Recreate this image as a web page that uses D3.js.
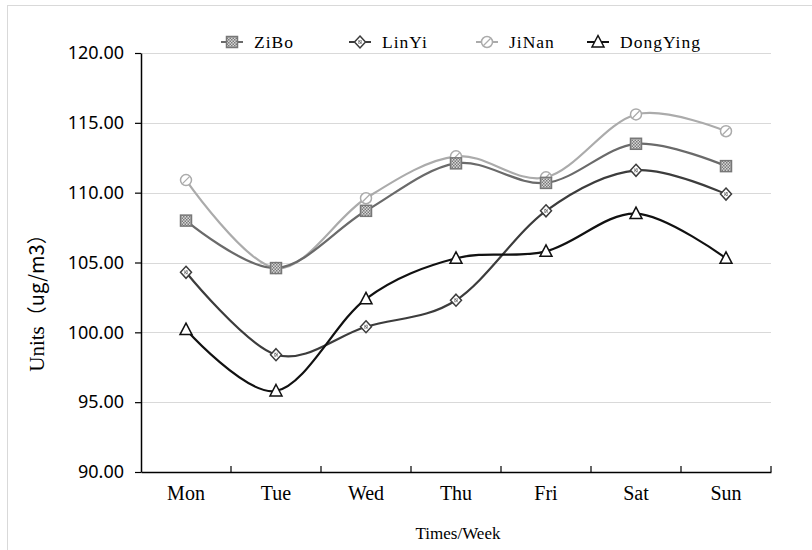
<!DOCTYPE html>
<html><head><meta charset="utf-8">
<script src="https://cdn.jsdelivr.net/npm/d3@7"></script>
<style>body{margin:0;background:#fff}svg{display:block}</style>
</head><body>
<svg id="c" width="812" height="550"></svg>
<script>
const categories = ["Mon","Tue","Wed","Thu","Fri","Sat","Sun"];
const zibo     = [108.0, 104.6, 108.7, 112.1, 110.7, 113.5, 111.9];
const linyi    = [104.3, 98.4, 100.4, 102.3, 108.7, 111.6, 109.9];
const jinan    = [110.9, 104.6, 109.6, 112.6, 111.1, 115.6, 114.4];
const dongying = [100.2, 95.8, 102.4, 105.3, 105.8, 108.5, 105.3];
const yTicks   = [90, 95, 100, 105, 110, 115, 120];
const seriesNames = ["ZiBo","LinYi","JiNan","DongYing"];

const series = [
  {name:"ZiBo", values:zibo, color:"#6a6a6a", marker:"square"},
  {name:"LinYi", values:linyi, color:"#3c3c3c", marker:"diamond"},
  {name:"JiNan", values:jinan, color:"#ababab", marker:"circle"},
  {name:"DongYing", values:dongying, color:"#111111", marker:"triangle"}
];

const svg = d3.select("#c");
const L = 141, R = 771, T = 53, B = 472;
const x = d3.scaleBand().domain(categories).range([L, R]);
const y = d3.scaleLinear().domain([90, 120]).range([B, T]);

const defs = svg.append("defs");
const pat = defs.append("pattern").attr("id","chk").attr("width",3).attr("height",3).attr("patternUnits","userSpaceOnUse");
pat.append("rect").attr("width",3).attr("height",3).attr("fill","#d8d8d8");
pat.append("rect").attr("width",1.5).attr("height",1.5).attr("fill","#7a7a7a");
pat.append("rect").attr("x",1.5).attr("y",1.5).attr("width",1.5).attr("height",1.5).attr("fill","#7a7a7a");

// frame
svg.append("line").attr("x1",7).attr("x2",812).attr("y1",5.5).attr("y2",5.5).attr("stroke","#d9d9d9");
svg.append("line").attr("x1",7.5).attr("x2",7.5).attr("y1",5).attr("y2",550).attr("stroke","#d9d9d9");

// gridlines
svg.append("g").selectAll("line").data(yTicks.filter(d=>d>90)).join("line")
  .attr("x1",L).attr("x2",R).attr("y1",d=>Math.round(y(d))+0.5).attr("y2",d=>Math.round(y(d))+0.5)
  .attr("stroke","#d9d9d9").attr("stroke-width",1);

// y axis
const ya = svg.append("g").attr("transform",`translate(${L},0)`)
  .call(d3.axisLeft(y).tickValues(yTicks).tickFormat(d3.format(".2f")).tickSize(6).tickSizeOuter(0));
ya.select(".domain").attr("stroke","#000").attr("stroke-width",1.5);
ya.selectAll(".tick line").attr("stroke","#000").attr("stroke-width",1.2);
ya.selectAll(".tick text").attr("font-family","'Noto Sans', sans-serif").attr("font-size",18).attr("fill","#000").attr("x",-17);

// x axis
const xa = svg.append("g").attr("transform",`translate(0,${B})`)
  .call(d3.axisBottom(x).tickSize(0).tickSizeOuter(0));
xa.select(".domain").attr("stroke","#000").attr("stroke-width",1.5);
xa.selectAll(".tick text").attr("font-family","'Liberation Serif', serif").attr("font-size",20).attr("fill","#000")
  .attr("y",28).attr("dy",0);
const bounds = categories.map(c=>x(c)).concat([x(categories[categories.length-1])+x.bandwidth()]).slice(1);
svg.append("g").selectAll("line").data(bounds).join("line")
  .attr("x1",d=>d).attr("x2",d=>d).attr("y1",B).attr("y2",B-6).attr("stroke","#000").attr("stroke-width",1.2);

// axis titles
svg.append("text").attr("x",458).attr("y",539).attr("text-anchor","middle")
  .attr("font-family","'Liberation Serif', serif").attr("font-size",17).text("Times/Week");
const yt = svg.append("text").attr("transform","translate(44,298) rotate(-90)").attr("text-anchor","middle");
yt.append("tspan").attr("font-family","'Liberation Serif', serif").attr("font-size",21).text("Units");
yt.append("tspan").attr("font-family","'Noto Sans CJK SC', 'Noto Sans', sans-serif").attr("font-size",20).text("（ug/m3）");

// lines
const line = d3.line().x((d,i)=>x(categories[i])+x.bandwidth()/2).y(d=>y(d)).curve(d3.curveCardinal.tension(0));

function drawMarker(g, type, color, cx, cy){
  const s = 5.5;
  if(type==="square"){
    g.append("rect").attr("x",cx-s).attr("y",cy-s).attr("width",2*s).attr("height",2*s)
      .attr("fill","url(#chk)").attr("stroke","#777").attr("stroke-width",1.5);
  } else if(type==="diamond"){
    g.append("path").attr("d",`M${cx},${cy-s-0.5}L${cx+s},${cy}L${cx},${cy+s+0.5}L${cx-s},${cy}Z`)
      .attr("fill","#fff").attr("stroke",color).attr("stroke-width",1.5);
    g.append("rect").attr("x",cx-2).attr("y",cy-2).attr("width",4).attr("height",4).attr("fill","url(#chk)");
  } else if(type==="circle"){
    g.append("circle").attr("cx",cx).attr("cy",cy).attr("r",s).attr("fill","#fff").attr("stroke",color).attr("stroke-width",1.5);
    g.append("line").attr("x1",cx-3.5).attr("y1",cy+3.5).attr("x2",cx+3.5).attr("y2",cy-3.5).attr("stroke",color).attr("stroke-width",1.3);
  } else if(type==="triangle"){
    g.append("path").attr("d",`M${cx},${cy-s-1}L${cx+s+0.5},${cy+s-0.5}L${cx-s-0.5},${cy+s-0.5}Z`)
      .attr("fill","#fff").attr("stroke",color).attr("stroke-width",1.5);
  }
}

const order = [2,0,1,3];
order.forEach(k=>{
  const s = series[k];
  svg.append("path").datum(s.values).attr("d",line).attr("fill","none")
    .attr("stroke",s.color).attr("stroke-width",2.2);
});
order.forEach(k=>{
  const s = series[k];
  const g = svg.append("g");
  s.values.forEach((v,i)=>drawMarker(g, s.marker, s.color, x(categories[i])+x.bandwidth()/2, y(v)));
});

// legend
const legX = [232, 360, 487, 598];
const legY = 42;
series.forEach((s,i)=>{
  const g = svg.append("g");
  g.append("line").attr("x1",legX[i]-11).attr("x2",legX[i]+11).attr("y1",legY).attr("y2",legY)
    .attr("stroke",s.color).attr("stroke-width",2);
  drawMarker(g, s.marker, s.color, legX[i], legY);
  g.append("text").attr("x",legX[i]+22).attr("y",legY+6).attr("font-family","'Liberation Serif', serif")
    .attr("font-size",17.5).attr("letter-spacing",1).attr("fill","#000").text(seriesNames[i]);
});
</script>
</body></html>
